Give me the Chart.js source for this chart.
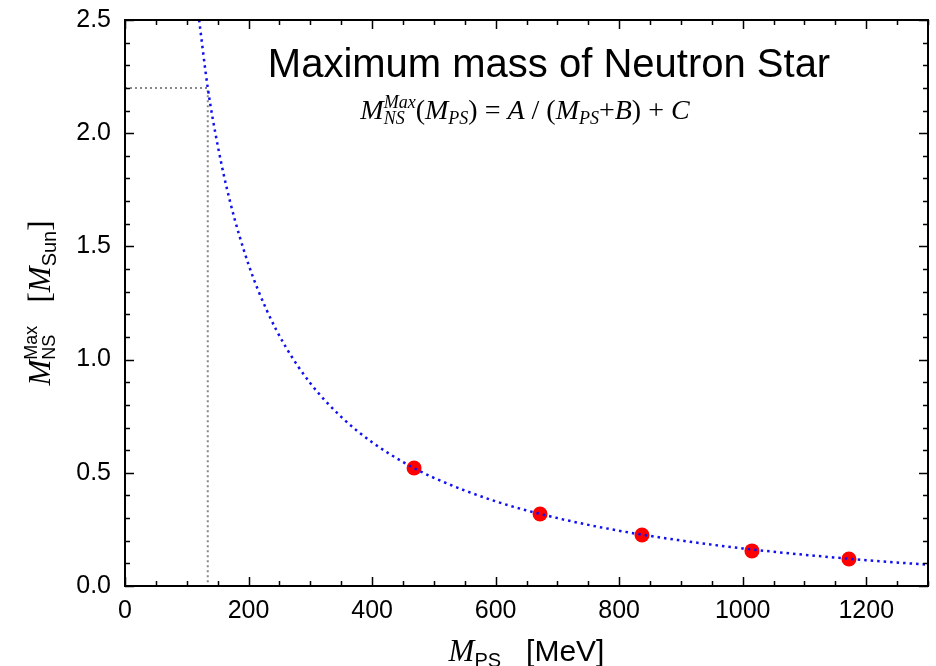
<!DOCTYPE html>
<html>
<head>
<meta charset="utf-8">
<script src="https://cdn.jsdelivr.net/npm/chart.js@4.4.8/dist/chart.umd.min.js"></script>
<style>
  html, body { margin: 0; padding: 0; background: #fff; }
  #wrap { width: 936px; height: 666px; }
</style>
</head>
<body>
<div id="wrap"><canvas id="c" width="936" height="666"></canvas></div>
<script>
// measured points (M_PS in MeV, max mass in M_sun)
const mpsData = [468, 672, 837, 1015, 1172];
const massData = [0.521, 0.318, 0.225, 0.155, 0.119];

// fit curve
const curveX = [120, 134, 150, 170, 200, 230, 260, 300, 350, 400, 450, 500, 600, 700, 800, 900, 1000, 1100, 1200, 1300];
const curveY = [2.50, 2.20, 1.947, 1.699, 1.420, 1.215, 1.057, 0.896, 0.747, 0.635, 0.548, 0.478, 0.374, 0.300, 0.244, 0.201, 0.166, 0.138, 0.114, 0.094];

// physical pion mass guide lines
const guideX = [0, 134, 134];
const guideY = [2.2, 2.2, 0];

const xTicks = [0, 200, 400, 600, 800, 1000, 1200];
const yTicks = [0, 0.5, 1.0, 1.5, 2.0, 2.5];
const xMinor = 50;
const yMinor = 0.1;

const SANS = '"Liberation Sans", Arial, sans-serif';
const SERIF = '"Liberation Serif", "Times New Roman", serif';

function pts(xs, ys) { return xs.map((x, i) => ({ x: x, y: ys[i] })); }

// draw a run of text pieces (sub/superscripts); stack:true keeps x for the next piece
function drawRuns(ctx, runs, cx, baseY) {
  let total = 0, pend = 0;
  runs.forEach(r => {
    ctx.font = r.font;
    const w = ctx.measureText(r.t).width;
    if (r.stack) { pend = w; return; }
    total += Math.max(w, pend); pend = 0;
  });
  let x = cx - total / 2;
  pend = 0;
  ctx.textAlign = 'left';
  ctx.textBaseline = 'alphabetic';
  runs.forEach(r => {
    ctx.font = r.font;
    const w = ctx.measureText(r.t).width;
    ctx.fillText(r.t, x, baseY + (r.dy || 0));
    if (r.stack) { pend = w; return; }
    x += Math.max(w, pend); pend = 0;
  });
}

const framePlugin = {
  id: 'frame',
  afterDraw(chart) {
    const ctx = chart.ctx;
    const a = chart.chartArea;
    const xs = chart.scales.x, ys = chart.scales.y;
    ctx.save();
    ctx.strokeStyle = '#000';
    ctx.lineWidth = 1.5;
    ctx.beginPath();
    // inward ticks on all four sides
    for (let v = 0; v <= 1300 + 1e-6; v += xMinor) {
      const px = Math.round(xs.getPixelForValue(v)) + 0.5;
      const len = (v % 200 === 0) ? 9 : 5;
      ctx.moveTo(px, a.bottom); ctx.lineTo(px, a.bottom - len);
      ctx.moveTo(px, a.top); ctx.lineTo(px, a.top + len);
    }
    for (let i = 0; i <= 25; i++) {
      const v = i * yMinor;
      const py = Math.round(ys.getPixelForValue(v)) + 0.5;
      const len = (i % 5 === 0) ? 9 : 5;
      ctx.moveTo(a.left, py); ctx.lineTo(a.left + len, py);
      ctx.moveTo(a.right, py); ctx.lineTo(a.right - len, py);
    }
    ctx.stroke();
    ctx.lineWidth = 2;
    ctx.strokeRect(a.left, a.top, a.right - a.left, a.bottom - a.top);

    ctx.fillStyle = '#000';
    // title
    ctx.font = '40px ' + SANS;
    ctx.textAlign = 'center';
    ctx.textBaseline = 'alphabetic';
    ctx.fillText('Maximum mass of Neutron Star', 549, 77);

    // formula
    const f = 'italic 28px ' + SERIF, fs = 'italic 18px ' + SERIF, r = '28px ' + SERIF;
    drawRuns(ctx, [
      { t: 'M', font: f },
      { t: 'Max', font: fs, dy: -11, stack: true },
      { t: 'NS', font: fs, dy: 5 },
      { t: '(', font: r },
      { t: 'M', font: f },
      { t: 'PS', font: fs, dy: 5 },
      { t: ') = ', font: r },
      { t: 'A', font: f },
      { t: ' / (', font: r },
      { t: 'M', font: f },
      { t: 'PS', font: fs, dy: 5 },
      { t: '+', font: r },
      { t: 'B', font: f },
      { t: ') + ', font: r },
      { t: 'C', font: f }
    ], 525, 119);

    // x axis title
    drawRuns(ctx, [
      { t: 'M', font: 'italic 31px ' + SERIF },
      { t: 'PS', font: '20px ' + SANS, dy: 6 },
      { t: '   [MeV]', font: '30px ' + SANS }
    ], (a.left + a.right) / 2, 661);

    // y axis title
    ctx.translate(50, (a.top + a.bottom) / 2);
    ctx.rotate(-Math.PI / 2);
    drawRuns(ctx, [
      { t: 'M', font: 'italic 31px ' + SERIF },
      { t: 'Max', font: '18px ' + SANS, dy: -13, stack: true },
      { t: 'NS', font: '18px ' + SANS, dy: 5 },
      { t: '   [', font: '31px ' + SERIF },
      { t: 'M', font: 'italic 31px ' + SERIF },
      { t: 'Sun', font: '20px ' + SANS, dy: 6 },
      { t: ']', font: '31px ' + SERIF }
    ], 0, 0);
    ctx.restore();
  }
};

new Chart(document.getElementById('c'), {
  type: 'scatter',
  data: {
    datasets: [
      {
        data: pts(curveX, curveY),
        showLine: true,
        borderColor: '#1010f0',
        borderWidth: 2.5,
        borderDash: [2.5, 4],
        pointRadius: 0,
        cubicInterpolationMode: 'monotone',
        order: 1
      },
      {
        data: pts(guideX, guideY),
        showLine: true,
        borderColor: '#888888',
        borderWidth: 2,
        borderDash: [2, 3],
        pointRadius: 0,
        order: 3
      },
      {
        data: pts(mpsData, massData),
        showLine: false,
        pointRadius: 7.5,
        pointBackgroundColor: '#ff0000',
        pointBorderWidth: 0,
        order: 2
      }
    ]
  },
  options: {
    responsive: false,
    animation: false,
    layout: { padding: { left: 0, right: 8, top: 20, bottom: 0 } },
    plugins: { legend: { display: false }, tooltip: { enabled: false } },
    scales: {
      x: {
        type: 'linear', min: 0, max: 1300,
        grid: { display: false, drawTicks: false },
        border: { display: false },
        ticks: { color: '#000', font: { family: SANS, size: 25 }, padding: 10,
                 callback: v => String(v) },
        afterBuildTicks: s => { s.ticks = xTicks.map(v => ({ value: v })); },
        afterFit: s => { s.height = 80; s.paddingLeft = 0; s.paddingRight = 0; }
      },
      y: {
        type: 'linear', min: 0, max: 2.5,
        grid: { display: false, drawTicks: false },
        border: { display: false },
        ticks: { color: '#000', font: { family: SANS, size: 25 }, padding: 14,
                 callback: v => v.toFixed(1) },
        afterBuildTicks: s => { s.ticks = yTicks.map(v => ({ value: v })); },
        afterFit: s => { s.width = 125; s.paddingTop = 0; s.paddingBottom = 0; }
      }
    }
  },
  plugins: [framePlugin]
});
</script>
</body>
</html>
